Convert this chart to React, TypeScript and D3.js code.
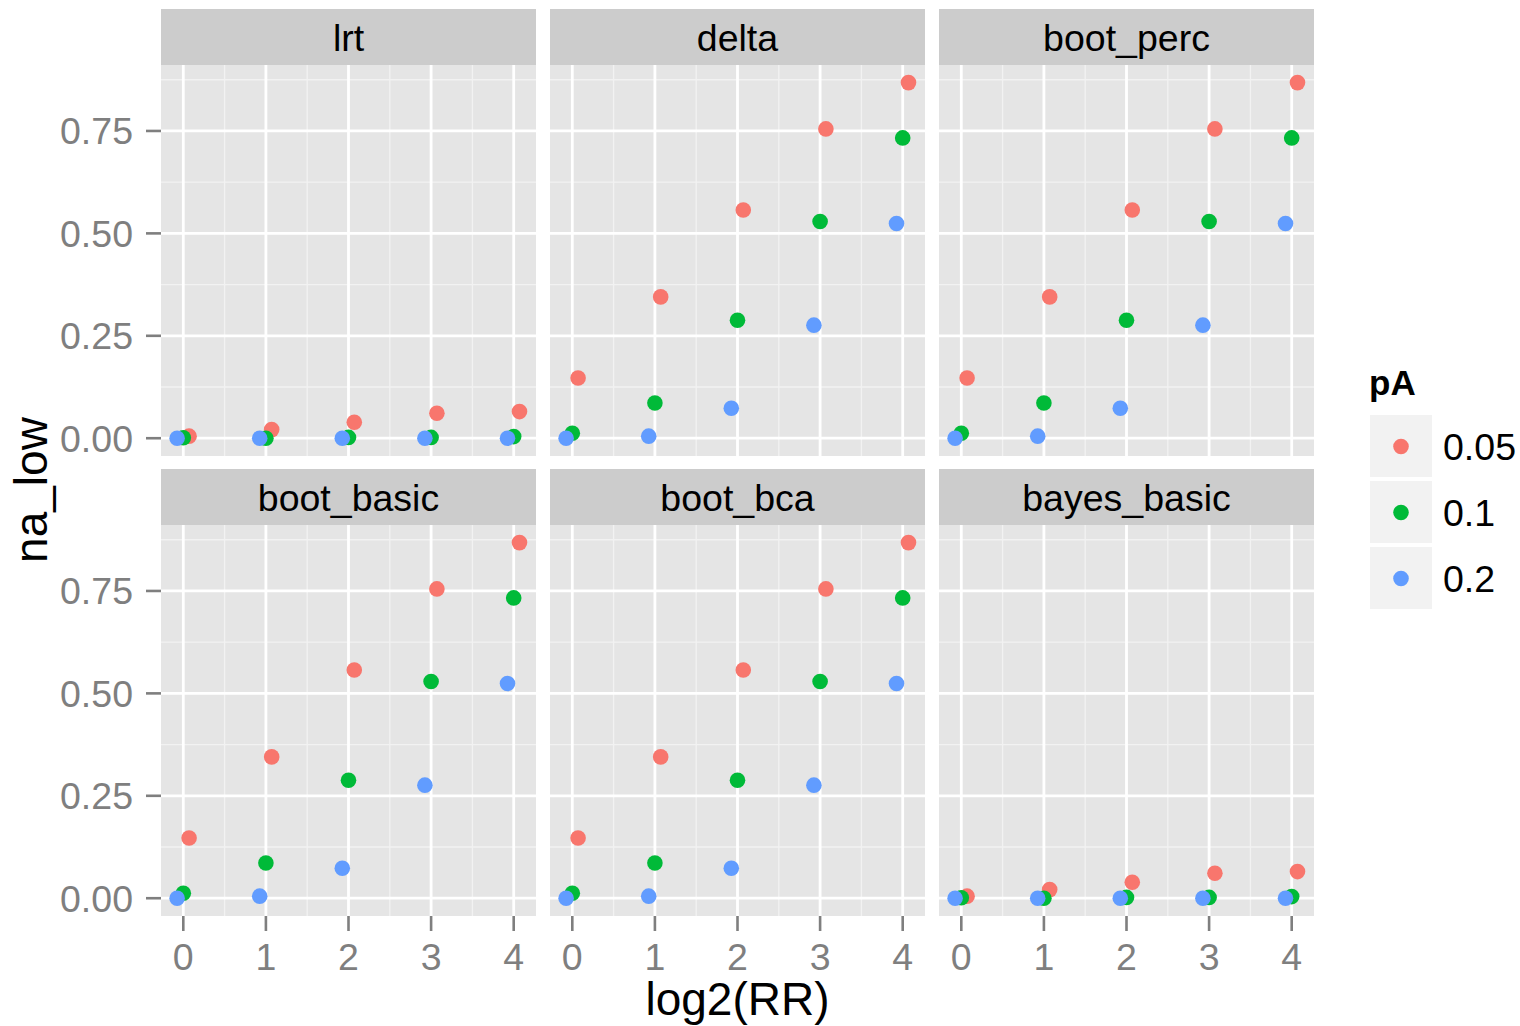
import React from "react";
import * as d3 from "d3";

const facets = ["lrt", "delta", "boot_perc", "boot_basic", "boot_bca", "bayes_basic"];
const log2RR = [0, 1, 2, 3, 4];
const pALevels = ["0.05", "0.1", "0.2"];
const pAColors = ["#F8766D", "#00BA38", "#619CFF"];
const pADodge = [0.07, 0, -0.075];

const lrt_05 = [0.005, 0.021, 0.039, 0.061, 0.065];
const lrt_10 = [0.001, 0.0, 0.002, 0.002, 0.004];
const lrt_20 = [0, 0, 0, 0, 0];
const delta_05 = [0.147, 0.345, 0.557, 0.755, 0.868];
const delta_10 = [0.012, 0.086, 0.288, 0.529, 0.733];
const delta_20 = [0.0, 0.005, 0.073, 0.276, 0.524];
const bayes_05 = [0.005, 0.021, 0.039, 0.061, 0.065];
const bayes_10 = [0.001, 0.0, 0.002, 0.002, 0.004];
const bayes_20 = [0, 0, 0, 0, 0];

const facetValues: Record<string, number[][]> = {
  lrt: [lrt_05, lrt_10, lrt_20],
  delta: [delta_05, delta_10, delta_20],
  boot_perc: [delta_05, delta_10, delta_20],
  boot_basic: [delta_05, delta_10, delta_20],
  boot_bca: [delta_05, delta_10, delta_20],
  bayes_basic: [bayes_05, bayes_10, bayes_20],
};

const yTicks = [0, 0.25, 0.5, 0.75];
const yMinor = [0.125, 0.375, 0.625, 0.875];
const xMinor = [0.5, 1.5, 2.5, 3.5];

const FONT = "'Liberation Sans', Arial, Helvetica, sans-serif";
const panelLefts = [161, 550, 939];
const panelW = 375;
const rows = [
  { stripTop: 9, top: 65, bottom: 456 },
  { stripTop: 469, top: 525, bottom: 916 },
];

export default function App() {
  const W = 1520, H = 1026;
  return (
    <svg width={W} height={H} style={{ position: "absolute", left: 0, top: 0, background: "#fff" }} fontFamily={FONT}>
      {facets.map((f, i) => {
        const col = i % 3;
        const row = rows[Math.floor(i / 3)];
        const x0 = panelLefts[col];
        const xs = d3.scaleLinear().domain([-0.27, 4.27]).range([x0, x0 + panelW]);
        const ys = d3.scaleLinear().domain([-0.0434, 0.911]).range([row.bottom, row.top]);
        const vals = facetValues[f];
        return (
          <g key={f}>
            <rect x={x0} y={row.stripTop} width={panelW} height={row.top - row.stripTop} fill="#CCCCCC" />
            <text x={x0 + panelW / 2} y={row.stripTop + (row.top - row.stripTop) / 2} dy="0.36em" textAnchor="middle" fontSize={37.5} fill="#000">
              {f}
            </text>
            <rect x={x0} y={row.top} width={panelW} height={row.bottom - row.top} fill="#E5E5E5" />
            {yMinor.map((v) => (
              <line key={"ym" + v} x1={x0} x2={x0 + panelW} y1={ys(v)} y2={ys(v)} stroke="#F2F2F2" strokeWidth={1.3} />
            ))}
            {xMinor.map((v) => (
              <line key={"xm" + v} x1={xs(v)} x2={xs(v)} y1={row.top} y2={row.bottom} stroke="#F2F2F2" strokeWidth={1.3} />
            ))}
            {yTicks.map((v) => (
              <line key={"yM" + v} x1={x0} x2={x0 + panelW} y1={ys(v)} y2={ys(v)} stroke="#FFFFFF" strokeWidth={2.8} />
            ))}
            {log2RR.map((v) => (
              <line key={"xM" + v} x1={xs(v)} x2={xs(v)} y1={row.top} y2={row.bottom} stroke="#FFFFFF" strokeWidth={2.8} />
            ))}
            {vals.map((series, s) =>
              series.map((v, k) => (
                <circle key={s + "-" + k} cx={xs(log2RR[k] + pADodge[s])} cy={ys(v)} r={7.8} fill={pAColors[s]} />
              ))
            )}
            {col === 0 &&
              yTicks.map((v) => (
                <g key={"yt" + v}>
                  <line x1={x0 - 15} x2={x0} y1={ys(v)} y2={ys(v)} stroke="#7F7F7F" strokeWidth={2.6} />
                  <text x={x0 - 28} y={ys(v)} dy="0.36em" textAnchor="end" fontSize={37.5} fill="#7F7F7F">
                    {d3.format(".2f")(v)}
                  </text>
                </g>
              ))}
            {i >= 3 &&
              log2RR.map((v) => (
                <g key={"xt" + v}>
                  <line x1={xs(v)} x2={xs(v)} y1={row.bottom} y2={row.bottom + 15} stroke="#7F7F7F" strokeWidth={2.6} />
                  <text x={xs(v)} y={970} textAnchor="middle" fontSize={37.5} fill="#7F7F7F">
                    {v}
                  </text>
                </g>
              ))}
          </g>
        );
      })}
      <text x={737.5} y={1015} textAnchor="middle" fontSize={46} fill="#000">log2(RR)</text>
      <text transform="translate(47,490) rotate(-90)" textAnchor="middle" fontSize={46} fill="#000">na_low</text>
      <text x={1369} y={395} fontSize={35} fontWeight="bold" fill="#000">pA</text>
      {pALevels.map((lab, s) => {
        const ky = 415 + s * 66;
        return (
          <g key={lab}>
            <rect x={1370} y={ky} width={62} height={62} fill="#F2F2F2" />
            <circle cx={1401} cy={ky + 31.5} r={7.8} fill={pAColors[s]} />
            <text x={1443} y={ky + 31.5} dy="0.36em" fontSize={37.5} fill="#000">{lab}</text>
          </g>
        );
      })}
    </svg>
  );
}
